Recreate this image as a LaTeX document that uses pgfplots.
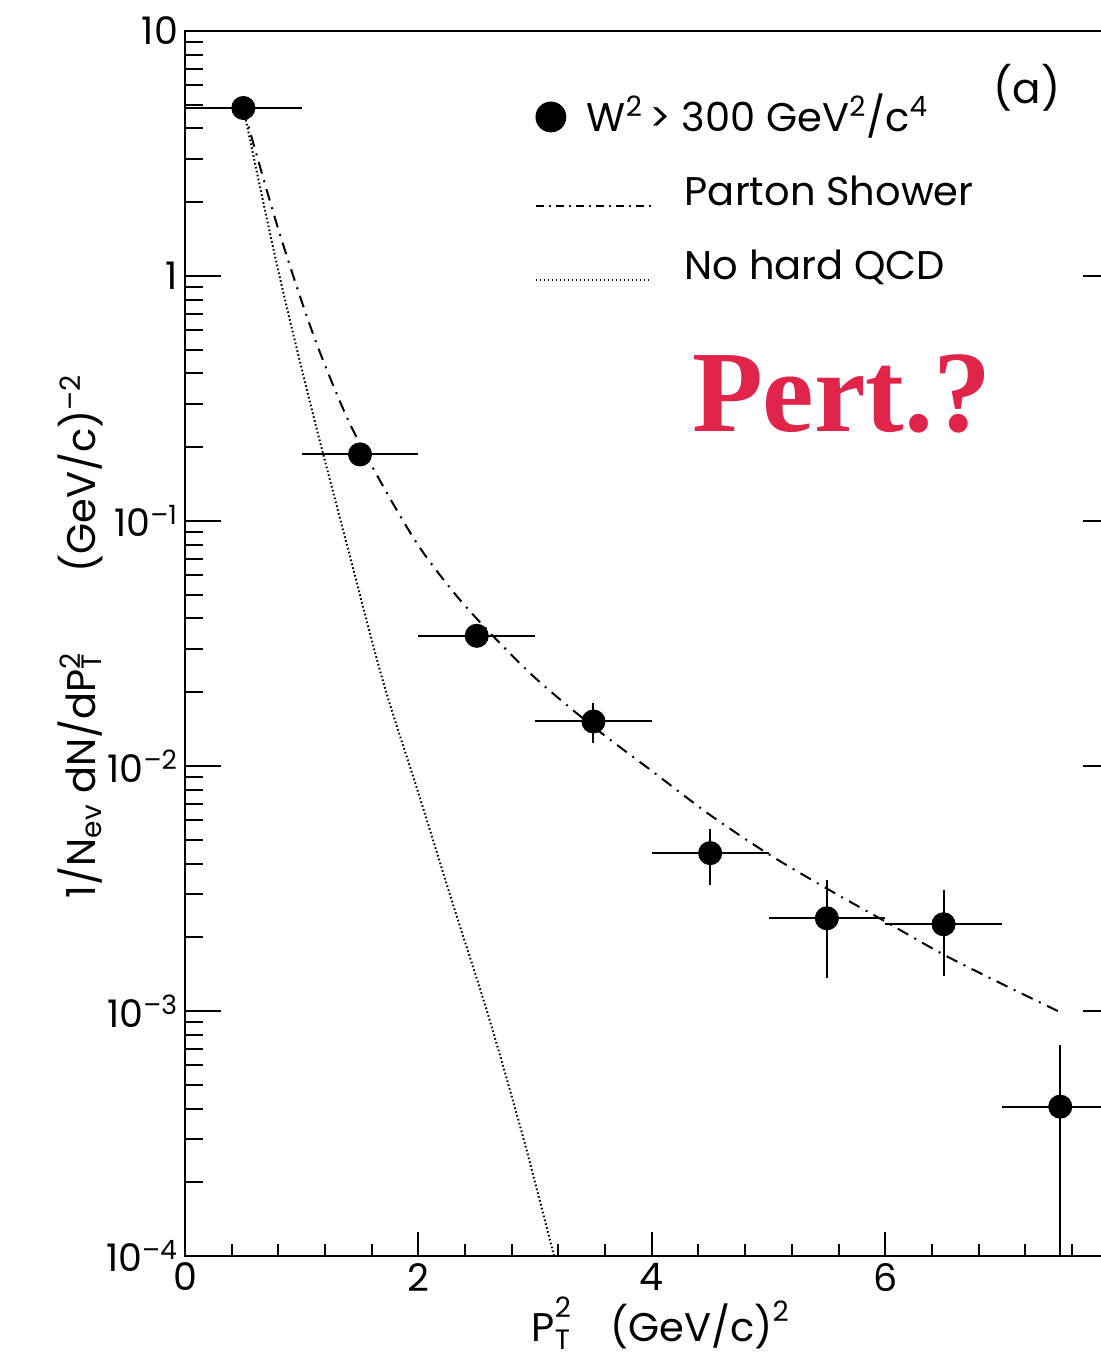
\documentclass[border=0pt]{standalone}
\usepackage{fontspec}
\setmainfont{Poppins}
\newfontfamily\pertfont{Liberation Serif}
\usepackage{pgfplots}
\pgfplotsset{compat=1.18}
\definecolor{pertred}{RGB}{224,36,74}

\begin{document}
\begin{tikzpicture}
\begin{axis}[
  at={(0,0)}, anchor=south west,
  scale only axis, width=466.8pt, height=612.5pt,
  xmin=0, xmax=8, ymode=log, ymin=1e-4, ymax=10,
  axis line style={line width=1.3pt},
  xtick={0,2,4,6,8},
  xticklabels={\mbox{0},\mbox{2},\mbox{4},\mbox{6},{}},
  minor x tick num=4,
  ytick={1e-4,1e-3,1e-2,1e-1,1,10},
  yticklabels={\mbox{10\textsuperscript{--4}},\mbox{10\textsuperscript{--3}},\mbox{10\textsuperscript{--2}},\mbox{10\textsuperscript{--1}},\mbox{1},\mbox{10}},
  minor ytick={2e-4,3e-4,4e-4,5e-4,6e-4,7e-4,8e-4,9e-4,
               2e-3,3e-3,4e-3,5e-3,6e-3,7e-3,8e-3,9e-3,
               0.02,0.03,0.04,0.05,0.06,0.07,0.08,0.09,
               0.2,0.3,0.4,0.5,0.6,0.7,0.8,0.9,
               2,3,4,5,6,7,8,9},
  xtick pos=left,
  tick align=inside,
  tick style={black, line width=1pt},
  major tick length=18pt, minor tick length=9pt,
  xtick style={/pgfplots/major tick length=12pt, /pgfplots/minor tick length=6pt},
  /pgf/number format/assume math mode=true,
  tick label style={font=\fontsize{19}{22}\selectfont},
  every axis x label/.style={at={(axis description cs:0.509,-0.0695)}, anchor=base},
  every axis y label/.style={at={(axis description cs:-0.1125,0.506)}, anchor=center, rotate=90},
  label style={font=\fontsize{20}{24}\selectfont},
  xlabel={P\rlap{\raisebox{12pt}{\fontsize{14}{14}\selectfont 2}}\raisebox{-4pt}{\fontsize{14}{14}\selectfont T}\quad(GeV/c)\raisebox{10pt}{\fontsize{14}{14}\selectfont 2}},
  ylabel={1/N\textsubscript{ev} dN/dP\rlap{\textsuperscript{2}}\textsubscript{T}\qquad(GeV/c)\textsuperscript{--2}},
  legend style={draw=none, fill=none, at={(0.3749,0.9437)}, anchor=north west,
    inner sep=0pt, outer sep=0pt, row sep=17pt, column sep=16.5pt,
    font=\fontsize{20}{24}\selectfont,
    nodes={text height=16pt, text depth=4pt, inner sep=0pt}},
  legend cell align=left,
  clip=true,
]
\addlegendimage{legend image code/.code={\path[draw=none,fill=none] (0pt,-9pt) rectangle (57.5pt,9pt); \fill[black] (7.5pt,1.5pt) circle[radius=7.5pt];}}
\addlegendentry{\hspace*{-49pt}W\textsuperscript{2}\,> 300 GeV\textsuperscript{2}/c\textsuperscript{4}}
\addlegendimage{legend image code/.code={\path[draw=none,fill=none] (0pt,-9pt) rectangle (57.5pt,9pt); \draw[black, line width=0.9pt, dash pattern=on 4pt off 2.5pt on 1pt off 2.5pt] (0pt,-6pt) -- (57.5pt,-6pt);}}
\addlegendentry{Parton Shower}
\addlegendimage{legend image code/.code={\path[draw=none,fill=none] (0pt,-9pt) rectangle (57.5pt,9pt); \draw[black, line width=0.9pt, dash pattern=on 0.7pt off 1.3pt] (0pt,-6pt) -- (57.5pt,-6pt);}}
\addlegendentry{No hard QCD}

% Parton shower (dash-dot)
\addplot[forget plot, black, line width=1pt, dash pattern=on 6pt off 3.5pt on 1pt off 3.5pt, smooth] coordinates {
(0.5,4.84) (0.8,1.55) (1.1,0.575) (1.4,0.257) (1.7,0.138) (2.0,0.0794)
(2.3,0.0513) (2.6,0.0355) (3.0,0.0229) (3.5,0.01445) (4.0,0.00955)
(4.5,0.00631) (5.0,0.00437) (5.5,0.00316) (6.0,0.00232) (6.5,0.0017)
(7.0,0.00129) (7.5,0.000989)
};
% No hard QCD (dotted)
\addplot[forget plot, black, line width=1pt, dash pattern=on 0.8pt off 1.2pt, smooth] coordinates {
(0.5,4.84) (0.8,1.047) (1.1,0.269) (1.4,0.0759) (1.7,0.0219) (2.0,0.00776)
(2.3,0.00269) (2.6,0.000955) (2.9,0.000302) (3.2,0.0000851)
};
% Data
\addplot[forget plot, only marks, mark=*, mark size=5.8pt, black,
  error bars/.cd, x dir=both, x explicit, y dir=both, y explicit,
  error mark=none, error bar style={line width=1pt, black}]
coordinates {
(0.5,4.85) +- (0.5,0)
(1.5,0.187) +- (0.5,0)
(2.5,0.034) +- (0.5,0)
(3.5,0.0152) +- (0.5,0.0028)
(4.5,0.00441) +- (0.5,0.00113)
(5.5,0.00239) +- (0.5,0.00103)
(6.5,0.00226) +- (0.5,0.00087)
(7.5,0.000407) +- (0.5,0.00032)
};
\end{axis}
\node[anchor=base west, text=pertred, font=\pertfont\bfseries\fontsize{58}{60}\selectfont] at (250pt,412pt) {Pert.?};
\node[anchor=center, font=\fontsize{21}{25}\selectfont] at (421pt,584pt) {(a)};
\pgfresetboundingbox
\path[use as bounding box] (-92.5pt,-51pt) rectangle (458pt,628pt);
\end{tikzpicture}
\end{document}
